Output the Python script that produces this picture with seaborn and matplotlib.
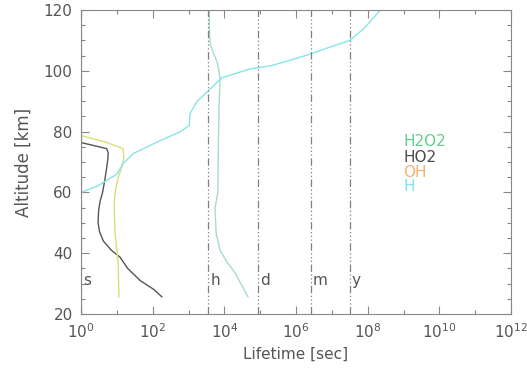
import matplotlib.pyplot as plt
import matplotlib.ticker as mticker
import pandas as pd
import numpy as np
import seaborn as sns

# Lifetime profiles (seconds) vs altitude (km)
h2o2_alt = [25.6, 29, 33.5, 37, 41, 46.6, 55, 60, 76, 90, 97.7, 102.6, 106, 109, 114, 120]
h2o2_life = [4.6e4, 3.2e4, 2.0e4, 1.2e4, 7.6e3, 5.9e3, 5.5e3, 6.6e3, 6.8e3, 7.2e3, 7.6e3, 6.4e3, 4.9e3, 4.0e3, 3.8e3, 3.8e3]

ho2_alt = [25.6, 28, 31, 35, 38.7, 41, 44, 47, 50, 54, 57, 60, 64, 68, 71, 73, 74.4, 76.4, 76.8]
ho2_life = [182, 110, 45, 20, 12.3, 7.0, 4.2, 3.3, 3.0, 3.1, 3.4, 4.0, 4.6, 5.2, 5.6, 5.75, 5.2, 1.0, 0.6]

oh_alt = [25.6, 30, 36, 42, 47, 52, 57, 61, 65, 68, 71.5, 74.4, 76.5, 78.7]
oh_life = [11.5, 11.2, 11.0, 9.8, 8.9, 8.6, 8.5, 9.2, 11.0, 13.5, 15.8, 14.8, 5.0, 1.0]

h_alt = [57, 60, 62, 66, 69.5, 72.8, 77, 80, 82, 85.9, 90, 94, 97.7, 100.6, 101.6, 103.5, 105.5, 108, 110, 114, 119, 122]
h_life = [0.3, 1.0, 2.8, 10, 15, 29, 160, 600, 1050, 1100, 1740, 4000, 8500, 5.2e4, 1.9e5, 7.0e5, 2.5e6, 1.0e7, 3.2e7, 8.0e7, 1.9e8, 3.2e8]

# Reference time scales
scale_names = ['s', 'h', 'd', 'm', 'y']
scale_secs = [1, 3600, 86400, 2.63e6, 3.156e7]

species = ['H2O2', 'HO2', 'OH', 'H']
line_colors = ['#a6dcc8', '#555555', '#d9de78', '#86e6e6']
text_colors = ['#5fd08c', '#4a4a4a', '#f3b569', '#7fe3ee']
label_alt = [76.6, 71.6, 66.7, 61.8]

x_ticks = [1, 1e2, 1e4, 1e6, 1e8, 1e10, 1e12]

sns.set_style('ticks')
plt.rcParams['font.family'] = ['DejaVu Sans']
plt.rcParams['axes.edgecolor'] = '#888888'
plt.rcParams['xtick.color'] = '#888888'
plt.rcParams['ytick.color'] = '#888888'
plt.rcParams['xtick.labelcolor'] = '#555555'
plt.rcParams['ytick.labelcolor'] = '#555555'

fig = plt.figure(figsize=(5.27, 3.69), dpi=100)
ax = fig.add_axes([0.1537, 0.149, 0.816, 0.824])
ax.set_xscale('log')

profiles = [(h2o2_life, h2o2_alt), (ho2_life, ho2_alt), (oh_life, oh_alt), (h_life, h_alt)]
for name, (life, alt), col in zip(species, profiles, line_colors):
    df = pd.DataFrame({'Lifetime': life, 'Altitude': alt})
    sns.lineplot(data=df, x='Lifetime', y='Altitude', sort=False, estimator=None,
                 color=col, lw=1.0, ax=ax)

for name, sec in zip(scale_names, scale_secs):
    ax.axvline(sec, color='#808080', lw=0.9, linestyle=(0, (6, 2, 1, 2, 1, 2, 1, 2)))
    ax.text(sec * 1.12, 31, name, color='#555555', fontsize=11, ha='left', va='center')

for name, a, col in zip(species, label_alt, text_colors):
    ax.text(1.0e9, a, name, color=col, fontsize=11, ha='left', va='center')

ax.set_xlim(1, 1e12)
ax.set_ylim(20, 120)
ax.xaxis.set_major_locator(mticker.FixedLocator(x_ticks))
ax.xaxis.set_major_formatter(mticker.LogFormatterSciNotation())
ax.xaxis.set_minor_locator(mticker.LogLocator(base=10, subs=[1.0], numticks=20))
ax.xaxis.set_minor_formatter(mticker.NullFormatter())
ax.yaxis.set_major_locator(mticker.MultipleLocator(20))
ax.yaxis.set_minor_locator(mticker.MultipleLocator(5))
ax.tick_params(which='both', direction='in', top=True, right=True, labelsize=11, pad=6)
ax.tick_params(which='major', length=6, width=0.8)
ax.tick_params(which='minor', length=3, width=0.8)
for s in ax.spines.values():
    s.set_linewidth(0.8)

ax.set_xlabel('Lifetime [sec]', fontsize=11, color='#555555', labelpad=4)
ax.set_ylabel('Altitude [km]', fontsize=12, color='#555555', labelpad=8)

fig.savefig('out.png', dpi=100)
